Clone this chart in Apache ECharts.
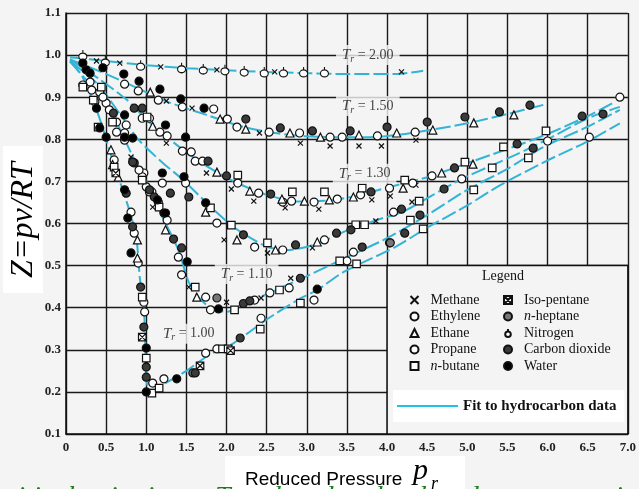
<!DOCTYPE html>
<html>
<head>
<meta charset="utf-8">
<script src="https://cdn.jsdelivr.net/npm/echarts@6/dist/echarts.min.js"></script>
<style>
  html, body { margin: 0; padding: 0; background: #f4f4f4; }
  #chart { width: 639px; height: 489px; }
</style>
</head>
<body>
<div id="chart"></div>
<script>
// curvas de ajuste (pr, Z)
const fitTr200 = [[0.05,0.995],[0.5,0.986],[1.0,0.976],[1.5,0.969],[2.0,0.964],[2.5,0.96],[3.0,0.957],[3.5,0.955],[4.1,0.955],[4.45,0.963]];
const fitTr150 = [[0.05,0.99],[0.5,0.955],[0.85,0.925],[1.25,0.89],[1.75,0.858],[2.2,0.83],[2.6,0.815],[3.0,0.807],[3.5,0.805],[3.9,0.806],[4.4,0.818],[5.0,0.838],[5.5,0.86],[5.95,0.882]];
const fitTr130 = [[0.05,0.99],[0.4,0.945],[0.75,0.895],[1.07,0.835],[1.6,0.755],[2.06,0.703],[2.47,0.67],[2.9,0.652],[3.3,0.655],[3.6,0.665],[4.0,0.685],[4.5,0.71],[5.1,0.75],[5.9,0.805],[6.5,0.855],[6.85,0.89]];
const fitTr120 = [[0.05,0.985],[0.4,0.93],[0.9,0.8],[1.2,0.745],[1.45,0.705],[1.8,0.64],[2.1,0.59],[2.5,0.545],[2.75,0.537],[3.1,0.55],[3.5,0.583],[3.9,0.61],[4.2,0.628],[4.9,0.703],[5.6,0.763],[6.0,0.8],[6.5,0.85],[6.9,0.877]];
const fitTr110 = [[0.05,0.985],[0.3,0.93],[0.55,0.87],[0.83,0.76],[1.0,0.7],[1.16,0.632],[1.4,0.537],[1.53,0.46],[1.65,0.425],[1.8,0.4],[2.0,0.39],[2.2,0.408],[2.5,0.432],[3.0,0.475],[3.5,0.52],[4.0,0.565],[4.5,0.62],[5.0,0.68],[5.5,0.73],[5.95,0.782],[6.5,0.83],[6.9,0.87]];
const fitTr100 = [[0.05,0.985],[0.2,0.95],[0.4,0.86],[0.58,0.75],[0.75,0.655],[0.87,0.575],[0.9,0.52],[0.92,0.47],[0.97,0.4],[0.99,0.3],[1.0,0.24],[1.03,0.205],[1.1,0.205],[1.25,0.222],[1.5,0.25],[1.8,0.29],[2.05,0.311],[2.5,0.372],[2.9,0.42],[3.13,0.442],[3.46,0.485],[4.1,0.544],[4.5,0.59],[5.0,0.643],[5.4,0.69],[6.0,0.75],[6.5,0.795],[6.9,0.838]];

// etiquetas Tr
const trLabels = ["2.00","1.50","1.30","1.10","1.00"];
const trLabelX = [3.76, 3.76, 3.72, 2.25, 1.53];
const trLabelY = [1.0, 0.879, 0.718, 0.48, 0.338];

// datos por sustancia
const methane = [[0.38,0.986],[0.67,0.981],[1.18,0.972],[1.88,0.965],[2.6,0.96],[4.18,0.96],
  [1.25,0.891],[1.57,0.874],[1.93,0.846],[2.41,0.815],[2.92,0.791],[3.29,0.784],[3.65,0.784],[3.93,0.784],[4.36,0.798],
  [1.25,0.791],[1.75,0.72],[2.06,0.682],[2.34,0.653],[2.73,0.637],[3.15,0.634],[3.81,0.656],[4.04,0.665],[4.36,0.691],
  [0.81,0.758],[1.08,0.639],[1.97,0.561],[2.51,0.53],[3.07,0.542],[3.86,0.606],[4.31,0.651],
  [1.53,0.449],[2.0,0.413],[2.43,0.423],[2.8,0.47],[1.0,0.268]];
const ethylene = [[0.73,0.931],[1.15,0.893],[1.84,0.872],[2.13,0.829],[2.91,0.815],[3.29,0.805],[3.88,0.808],
  [0.95,0.85],[1.17,0.817],[1.45,0.772],[1.61,0.748],[2.14,0.696],[2.7,0.651],[3.09,0.651],[3.67,0.668],[4.03,0.684],[4.56,0.713],
  [0.63,0.817],[0.97,0.72],[1.15,0.651],[1.49,0.696],[2.35,0.544],[2.7,0.537],[3.22,0.561],[4.08,0.627],
  [0.42,0.912],[0.5,0.886],[0.63,0.841],[0.75,0.834],[0.95,0.711],[1.26,0.608],[1.44,0.478],[1.74,0.425],[2.35,0.418],[2.78,0.447],
  [0.3,0.936],[0.6,0.751],[0.81,0.627],[0.9,0.506],[0.98,0.39],[1.08,0.221],[1.74,0.292],[2.43,0.375]];
const ethane = [[1.05,0.912],[1.92,0.848],[2.24,0.824],[2.79,0.815],[3.17,0.805],[3.65,0.81],[4.12,0.815],[4.57,0.822],[5.08,0.839],[5.58,0.858],
  [1.08,0.831],[1.88,0.722],[2.29,0.677],[2.69,0.658],[2.97,0.653],[3.28,0.656],[3.58,0.663],[4.2,0.684],[4.68,0.72],[5.07,0.741],
  [1.74,0.627],[2.13,0.561],[2.61,0.537],[3.13,0.556],
  [1.24,0.585],[1.63,0.425],
  [0.56,0.775],[0.58,0.74],[0.65,0.71],[0.89,0.561],[0.89,0.518]];
const propane = [[0.9,0.915],[1.45,0.877],[2.01,0.848],[2.53,0.817],[3.44,0.805],[4.35,0.817],
  [1.04,0.85],[1.26,0.808],[1.56,0.77],[1.7,0.748],[2.4,0.672],[2.81,0.653],[3.38,0.658],[4.32,0.696],[6.9,0.9],
  [0.73,0.798],[1.07,0.675],[1.2,0.696],[1.88,0.601],[4.93,0.706],[6.0,0.796],
  [0.46,0.9],[0.54,0.87],[0.73,0.815],[0.91,0.727],[1.0,0.687],[1.04,0.675],[1.4,0.52],[1.8,0.395],[2.54,0.435],[3.58,0.532],[6.52,0.805],
  [0.21,0.929],[0.32,0.917],[0.36,0.889],[0.85,0.577],[0.97,0.413],[1.22,0.231],[1.88,0.302],[3.09,0.418],[3.5,0.511],[4.03,0.554]];
const nButane = [[1.01,0.853],[2.14,0.715],[2.82,0.675],[3.22,0.675],[3.69,0.684],[4.22,0.703],[4.97,0.746],[5.45,0.782],[5.98,0.82],
  [1.8,0.637],[2.06,0.596],[2.51,0.554],[3.61,0.597],[3.72,0.597],[4.4,0.653],[5.31,0.732],
  [0.44,0.924],[0.58,0.841],[0.95,0.703],[1.16,0.639],[1.61,0.449],[2.1,0.395],[2.66,0.442],[4.29,0.608],[4.45,0.587],[5.08,0.68],[5.76,0.756],
  [0.21,0.924],[0.34,0.893],[0.4,0.829],[0.6,0.734],[0.95,0.425],[1.0,0.28],[1.07,0.197],[1.16,0.209],[1.95,0.302],[2.02,0.302],[2.42,0.349],[2.92,0.411],[3.41,0.511],[3.62,0.504]];
const isoPentane = [[0.95,0.33],[1.67,0.262],[2.05,0.298],[0.62,0.72]];
const nHeptane = [[1.88,0.423],[4.04,0.554],[1.58,0.245]];
const nitrogen = [[0.21,1.0],[0.49,0.986],[0.93,0.976],[1.44,0.97],[1.71,0.967],[1.98,0.965],[2.22,0.962],[2.47,0.96],[2.71,0.96],[2.96,0.96],[3.22,0.96]];
const carbonDioxide = [[2.24,0.848],[2.67,0.827],[3.07,0.82],[3.54,0.82],[4.0,0.829],[4.5,0.841],[4.97,0.853],[5.4,0.865],[5.78,0.881],
  [0.85,0.874],[0.95,0.874],[1.77,0.748],[2.0,0.713],[2.55,0.67],[3.8,0.675],[4.84,0.732],[5.62,0.789],
  [0.85,0.744],[1.1,0.663],[1.3,0.672],[1.34,0.563],[1.53,0.663],[2.21,0.573],[2.86,0.549],[3.37,0.577],[3.55,0.585],[4.18,0.634],[4.71,0.682],[5.82,0.779],[6.43,0.855],[6.69,0.86],
  [0.59,0.862],[0.83,0.746],[1.04,0.68],[1.44,0.542],[2.21,0.41],[2.29,0.416],[2.92,0.47],[3.69,0.544],[4.22,0.577],[4.41,0.62],
  [0.75,0.672],[0.83,0.592],[0.93,0.449],[0.97,0.354],[1.0,0.259],[1.0,0.235],[1.61,0.245],[2.17,0.328]];
const water = [[0.46,0.97],[0.72,0.955],[0.91,0.938],[1.17,0.919],[1.43,0.896],[1.72,0.874],
  [1.24,0.834],[1.49,0.805],
  [0.73,0.805],[0.83,0.803],[1.2,0.72],[1.22,0.625],[1.47,0.711],[1.74,0.649],
  [0.73,0.858],[1.14,0.656],[1.24,0.625],[1.51,0.509],[1.9,0.397],
  [0.21,0.981],[0.25,0.965],[0.3,0.957],[0.38,0.874],[0.42,0.827],[0.5,0.805],[0.73,0.68],[0.77,0.613],[0.81,0.53],[1.0,0.304],[1.0,0.2],[1.38,0.231],[3.13,0.444]];

const BG = "#f4f4f4";
const SERIF = '"Liberation Serif", "Times New Roman", serif';
const FIT_NAME = "Fit to hydrocarbon data";
const CYAN = "#33b4d6";

function fitSeries(data){
  return {
    name: FIT_NAME,
    type: "line",
    data: data,
    smooth: 0.25,
    symbol: "none",
    z: 2,
    lineStyle: { color: CYAN, width: 2, type: [15, 4] },
    itemStyle: { color: CYAN }
  };
}

function markerSeries(name, data, symbol, size, fill){
  return {
    name: name,
    type: "scatter",
    data: data,
    symbol: symbol,
    symbolSize: size,
    z: 3,
    itemStyle: { color: fill, borderColor: "#111", borderWidth: 1.2, opacity: 1 }
  };
}

function legendName(name){
  if (name.startsWith("n-")) return "  {i|n}-" + name.slice(2);
  return "  " + name;
}

function build(){
  const chart = echarts.init(document.getElementById("chart"));

  const species = [
    markerSeries("Methane", methane, "path://M0,0L10,10M10,0L0,10", 5, "none"),
    markerSeries("Ethylene", ethylene, "circle", 8, "#fff"),
    markerSeries("Ethane", ethane, "triangle", 8, "#fff"),
    markerSeries("Propane", propane, "circle", 8, "#fff"),
    markerSeries("n-butane", nButane, "rect", 7.5, "#fff"),
    markerSeries("Iso-pentane", isoPentane, "path://M0,0H10V10H0ZM0,0L10,10M10,0L0,10", 7.5, "#fff"),
    markerSeries("n-heptane", nHeptane, "circle", 8, "#777"),
    markerSeries("Nitrogen", nitrogen, "path://M5,0L5,3M5,3A3.5,3.5,0,1,1,5,10A3.5,3.5,0,1,1,5,3Z", [8, 10], "#fff"),
    markerSeries("Carbon dioxide", carbonDioxide, "circle", 8, "#3a3a3a"),
    markerSeries("Water", water, "circle", 8, "#000")
  ];

  const labelSeries = {
    name: "trLabels",
    type: "scatter",
    data: trLabelX.map((x, i) => [x, trLabelY[i]]),
    symbolSize: 1,
    z: 4,
    itemStyle: { color: "rgba(0,0,0,0)" },
    label: {
      show: true,
      position: "inside",
      formatter: (p) => "{t|T}{s|r}{n| = " + trLabels[p.dataIndex] + "}",
      backgroundColor: BG,
      padding: [1, 6],
      rich: {
        t: { fontFamily: SERIF, fontStyle: "italic", fontSize: 15, color: "#111" },
        s: { fontFamily: SERIF, fontStyle: "italic", fontSize: 10, color: "#111", padding: [8, 0, 0, 0] },
        n: { fontFamily: SERIF, fontSize: 14, color: "#111" }
      }
    },
    markArea: {
      silent: true,
      itemStyle: { color: BG, borderColor: "#111", borderWidth: 1.5 },
      label: { show: false },
      data: [[{ coord: [4, 0.1] }, { coord: [7, 0.5] }]]
    }
  };

  const legendText = {
    fontFamily: SERIF, fontSize: 14, color: "#111", lineHeight: 16,
    rich: { i: { fontFamily: SERIF, fontSize: 14, fontStyle: "italic", color: "#111", lineHeight: 16 } }
  };

  const option = {
    backgroundColor: BG,
    animation: false,
    grid: { left: 66, right: 5, top: 13, bottom: 55 },
    xAxis: {
      type: "value", min: 0, max: 7, interval: 0.5,
      axisLine: { show: true, lineStyle: { color: "#111", width: 1.5 } },
      axisTick: { show: false },
      splitLine: { show: true, lineStyle: { color: "#1a1a1a", width: 1.4 } },
      axisLabel: {
        margin: 7, fontFamily: SERIF, fontSize: 13, fontWeight: "bold", color: "#222",
        formatter: (v) => v === 0 ? "0" : v.toFixed(1)
      }
    },
    yAxis: {
      type: "value", min: 0.1, max: 1.1, interval: 0.1,
      axisLine: { show: true, lineStyle: { color: "#111", width: 1.5 } },
      axisTick: { show: false },
      splitLine: { show: true, lineStyle: { color: "#1a1a1a", width: 1.4 } },
      axisLabel: {
        margin: 5, fontFamily: SERIF, fontSize: 13, fontWeight: "bold", color: "#222",
        formatter: (v) => v.toFixed(1)
      }
    },
    legend: [
      {
        data: ["Methane","Ethylene","Ethane","Propane","n-butane"],
        orient: "vertical", left: 403, top: 287, itemGap: 0.5,
        itemWidth: 8, itemHeight: 8, selectedMode: false,
        formatter: legendName, textStyle: legendText
      },
      {
        data: ["Iso-pentane","n-heptane","Nitrogen","Carbon dioxide","Water"],
        orient: "vertical", left: 498, top: 287, itemGap: 0.5,
        itemWidth: 8, itemHeight: 8, selectedMode: false,
        formatter: legendName, textStyle: legendText
      },
      {
        data: [{ name: FIT_NAME, icon: "rect", itemStyle: { color: "#1fc3e6" } }],
        left: 393, top: 390, padding: [8, 8, 8, 4],
        backgroundColor: "#fff",
        itemWidth: 61, itemHeight: 2, selectedMode: false,
        textStyle: { fontFamily: SERIF, fontSize: 15, fontWeight: "bold", color: "#111", lineHeight: 16 }
      }
    ],
    graphic: [
      { type: "rect", z: 10, shape: { x: 3, y: 146, width: 40, height: 147 }, style: { fill: "#fff" } },
      { type: "text", z: 11, x: 24, y: 220, rotation: Math.PI / 2,
        style: { text: "Z=pv/RT", font: 'italic 32px "Liberation Serif"', fill: "#000", align: "center", verticalAlign: "middle" } },
      { type: "rect", z: 10, shape: { x: 225, y: 456, width: 240, height: 33 }, style: { fill: "#fff" } },
      { type: "text", z: 11, x: 245, y: 480,
        style: { text: "Reduced Pressure", font: '19px "Liberation Sans"', fill: "#000", align: "left", verticalAlign: "middle" } },
      { type: "text", z: 11, x: 413, y: 471,
        style: { text: "p", font: 'italic 30px "Liberation Serif"', fill: "#000", align: "left", verticalAlign: "middle" } },
      { type: "text", z: 11, x: 431, y: 484,
        style: { text: "r", font: 'italic 18px "Liberation Serif"', fill: "#000", align: "left", verticalAlign: "middle" } },
      { type: "text", z: 12, x: -6, y: 484,
        style: { text: "critical point is at   T  reduced and reduced pressure point is in", font: 'italic 28px "Liberation Serif"', fill: "#1b7d1b", align: "left", verticalAlign: "top" } },
      { type: "text", z: 11, x: 503, y: 276,
        style: { text: "Legend", font: '14px "Liberation Serif"', fill: "#111", align: "center", verticalAlign: "middle" } }
    ],
    series: [
      fitSeries(fitTr200), fitSeries(fitTr150), fitSeries(fitTr130),
      fitSeries(fitTr120), fitSeries(fitTr110), fitSeries(fitTr100),
      ...species,
      labelSeries
    ]
  };

  chart.setOption(option);
}

document.addEventListener("DOMContentLoaded", build);
</script>
</body>
</html>
